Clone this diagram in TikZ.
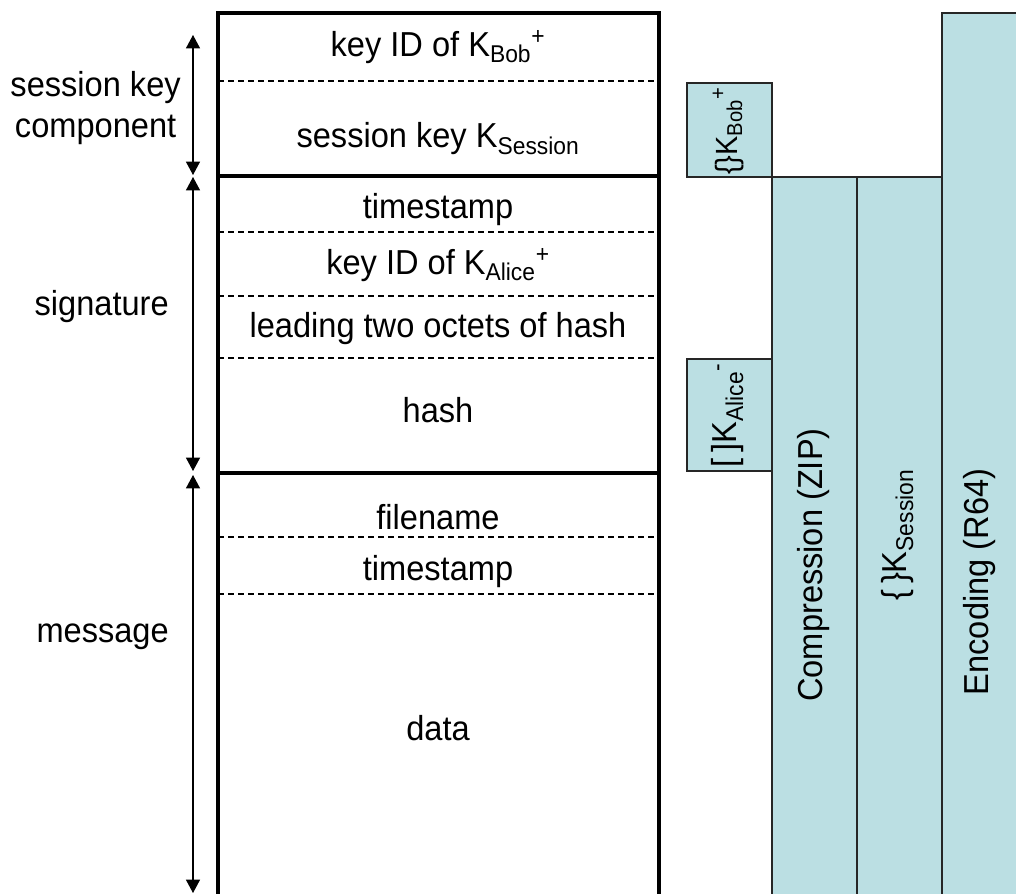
\documentclass[tikz,border=0pt]{standalone}
\usepackage{fontspec}
\setmainfont{Liberation Sans}[FakeStretch=0.94]
\usetikzlibrary{arrows.meta}
\definecolor{pgpblue}{RGB}{187,223,227}
\newcommand{\keyof}[2]{K\textsubscript{#1}\textsuperscript{#2}}
\newcommand{\bigtext}{\fontsize{26}{31}\selectfont}
\newcommand{\midtext}{\fontsize{23}{28}\selectfont}
\tikzset{
    field/.style={font=\bigtext, inner sep=0pt},
    part/.style={font=\bigtext, align=center, anchor=east, inner sep=0pt},
    sep/.style={dash pattern=on 4.5pt off 3pt, line width=0.8pt},
    frame/.style={line width=2.3pt},
    layer/.style={draw=black!85, line width=1.3pt, fill=pgpblue},
    vert/.style={rotate=90, inner sep=0pt, font=\bigtext},
    keyvert/.style={vert, font=\midtext},
    span/.style={{Triangle[length=10pt,width=10.5pt]}-{Triangle[length=10pt,width=10.5pt]}, line width=0.8pt}
}

\begin{document}
\begin{tikzpicture}[x=0.75pt, y=-0.75pt]
    \clip (0,0) rectangle (1016,893);

    % processing layers on the right
    \draw[layer] (942,13) rectangle (1030,910);
    \draw[layer] (772,177) rectangle (857,910);
    \draw[layer] (857,177) rectangle (942,910);
    \draw[layer] (687,83) rectangle (772,177);
    \draw[layer] (687,359) rectangle (772,471);

    \node[keyvert] (encbob) at (728,131) {\{\}\keyof{Bob}{+}};
    \node[vert] (signalice) at (728,415) {[\,]\keyof{Alice}{-}};
    \node[vert] (zip) at (814,565) {Compression (ZIP)};
    \node[vert] (encsession) at (898,535) {\{\,\}K\textsubscript{Session}};
    \node[vert] (r64) at (980,582) {Encoding (R64)};

    % packet frame
    \draw[frame] (218,910) -- (218,13) -- (659,13) -- (659,910);
    \draw[frame] (218,176) -- (659,176);
    \draw[frame] (218,473) -- (659,473);
    \foreach \y in {81,232,296,358,537,594}
        \draw[sep] (218,\y) -- (659,\y);

    % fields
    \node[field] (kidbob) at (438,47) {key ID of \keyof{Bob}{+}};
    \node[field] (sesskey) at (438,139) {session key K\textsubscript{Session}};
    \node[field] (sigtime) at (438,210) {timestamp};
    \node[field] (kidalice) at (438,265) {key ID of \keyof{Alice}{+}};
    \node[field] (octets) at (438,329) {leading two octets of hash};
    \node[field] (hash) at (438,410) {hash};
    \node[field] (fname) at (438,517) {filename};
    \node[field] (msgtime) at (438,572) {timestamp};
    \node[field] (data) at (438,728) {data};

    % parts on the left
    \node[part] (skc) at (181,108) {session key\\component};
    \node[part] (sig) at (169,307) {signature};
    \node[part] (msg) at (169,637) {message};

    \coordinate (skcTop) at (193,35);
    \coordinate (skcBot) at (193,175);
    \coordinate (sigTop) at (193,177);
    \coordinate (sigBot) at (193,471);
    \coordinate (msgTop) at (193,475);
    \coordinate (msgBot) at (193,893);
    \draw[span] (skcTop) -- (skcBot);
    \draw[span] (sigTop) -- (sigBot);
    \draw[span] (msgTop) -- (msgBot);
\end{tikzpicture}
\end{document}
